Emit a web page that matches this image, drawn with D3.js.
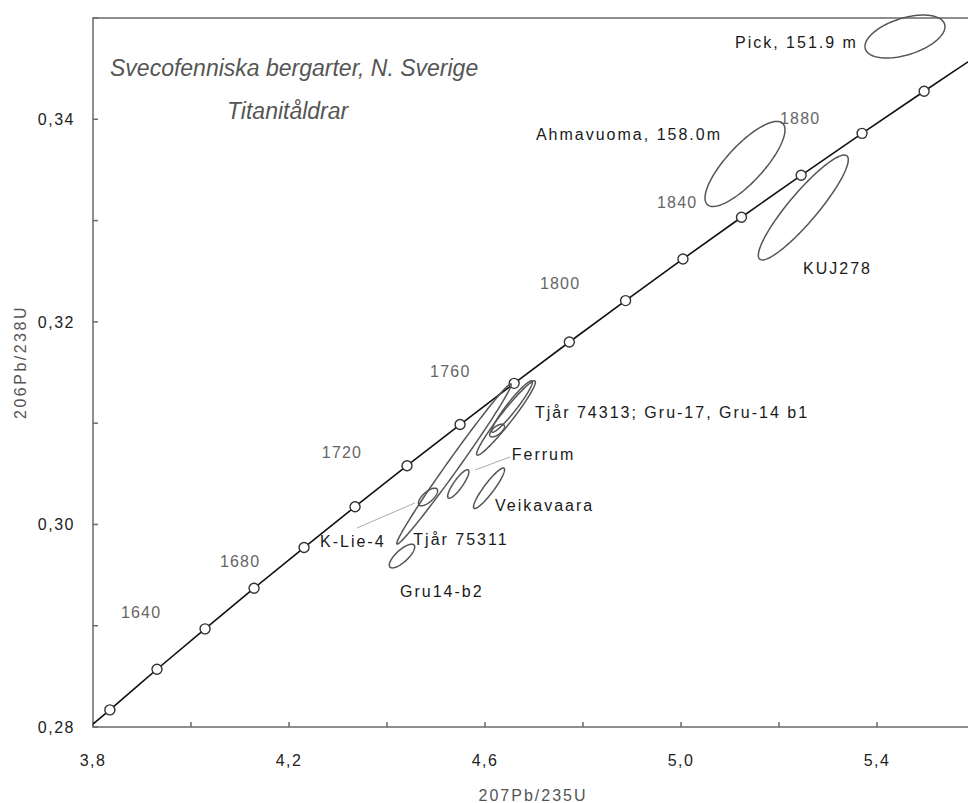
<!DOCTYPE html>
<html>
<head>
<meta charset="utf-8">
<script src="https://cdn.jsdelivr.net/npm/d3@7"></script>
<style>
  body { margin: 0; background: #fff; }
  svg { display: block; font-family: Arial, "Liberation Sans", sans-serif; }
</style>
</head>
<body>
<svg width="968" height="803"></svg>
<script>
// concordia: ages (Ma) and their ratios
const concAges = [1593, 1600, 1620, 1640, 1660, 1680, 1700, 1720, 1740, 1760, 1780, 1800, 1820, 1840, 1860, 1880, 1900, 1920];
const concX = [3.800, 3.8344, 3.9306, 4.0287, 4.1287, 4.2307, 4.3348, 4.4409, 4.5491, 4.6595, 4.7721, 4.8869, 5.0040, 5.1234, 5.2452, 5.3695, 5.4962, 5.6254];
const concY = [0.28029, 0.28169, 0.28570, 0.28969, 0.29370, 0.29772, 0.30175, 0.30580, 0.30986, 0.31393, 0.31801, 0.32210, 0.32621, 0.33033, 0.33447, 0.33861, 0.34277, 0.34695];

// age labels along concordia
const ageLabels = ['1640', '1680', '1720', '1760', '1800', '1840', '1880'];
const ageLabelX = [3.857, 4.059, 4.267, 4.488, 4.712, 4.951, 5.202];
const ageLabelY = [0.29135, 0.29639, 0.30718, 0.31518, 0.32384, 0.33186, 0.34013];

// error ellipses: centre, half widths, correlation
const ellName = ['Pick', 'Ahmavuoma', 'KUJ278', 'Tjår 75311', 'Tjår 74313', 'Gru-17', 'Gru-14 b1', 'K-Lie-4', 'Ferrum', 'Veikavaara', 'Gru14-b2'];
const ellX   = [5.4571, 5.1306, 5.2496, 4.5367, 4.6429, 4.6551, 4.6245, 4.4837, 4.5455, 4.6082, 4.4306];
const ellSX  = [0.0816, 0.0816, 0.0918, 0.1168, 0.0600, 0.0416, 0.0151, 0.0196, 0.0217, 0.0317, 0.0259];
const ellY   = [0.34817, 0.33559, 0.33129, 0.30597, 0.31051, 0.31164, 0.30927, 0.30271, 0.30399, 0.30357, 0.29688];
const ellSY  = [0.00212, 0.00420, 0.00518, 0.00791, 0.00367, 0.00254, 0.00063, 0.00087, 0.00141, 0.00200, 0.00117];
const ellRho = [0.46, 0.80, 0.91, 0.992, 0.966, 0.951, 0.65, 0.70, 0.86, 0.918, 0.76];

// sample labels
const sampleText = ['Pick, 151.9 m', 'Ahmavuoma, 158.0m', 'KUJ278', 'Tjår 74313; Gru-17, Gru-14 b1', 'Ferrum', 'Veikavaara', 'K-Lie-4', 'Tjår 75311', 'Gru14-b2'];
const sampleX = [5.1102, 5.0837, 5.2490, 4.7020, 4.6545, 4.6204, 4.2633, 4.4537, 4.4265];
const sampleY = [0.34763, 0.33850, 0.32529, 0.31113, 0.30695, 0.30192, 0.29836, 0.29853, 0.29346];
const sampleAnchor = ['start', 'end', 'start', 'start', 'start', 'start', 'start', 'start', 'start'];

// leader lines
const leaderX1 = [4.3388, 4.5796];
const leaderY1 = [0.29965, 0.30537];
const leaderX2 = [4.4571, 4.6510];
const leaderY2 = [0.30212, 0.30666];

const xTicks = [3.8, 4.0, 4.2, 4.4, 4.6, 4.8, 5.0, 5.2, 5.4, 5.6];
const xLabelTicks = [3.8, 4.2, 4.6, 5.0, 5.4];
const yTicks = [0.28, 0.29, 0.30, 0.31, 0.32, 0.33, 0.34, 0.35];
const yLabelTicks = [0.28, 0.30, 0.32, 0.34];

const svg = d3.select('svg');
const m = {left: 93, top: 18, right: 975, bottom: 727};

const x = d3.scaleLinear().domain([3.8, 5.6]).range([m.left, m.right]);
const y = d3.scaleLinear().domain([0.28, 0.35]).range([m.bottom, m.top]);
const comma = d => d3.format('.1f')(d).replace('.', ',');
const comma2 = d => d3.format('.2f')(d).replace('.', ',');

svg.append('defs').append('clipPath').attr('id', 'plot')
  .append('rect').attr('x', m.left).attr('y', m.top)
  .attr('width', m.right - m.left).attr('height', m.bottom - m.top);

// frame
svg.append('rect')
  .attr('x', m.left).attr('y', m.top)
  .attr('width', m.right - m.left).attr('height', m.bottom - m.top)
  .attr('fill', 'none').attr('stroke', '#6a6a6a').attr('stroke-width', 1.5);

// x axis ticks (inward)
svg.append('g').selectAll('line').data(xTicks).join('line')
  .attr('x1', d => x(d)).attr('x2', d => x(d))
  .attr('y1', m.bottom).attr('y2', m.bottom - 5)
  .attr('stroke', '#6a6a6a').attr('stroke-width', 1.5);
svg.append('g').selectAll('text').data(xLabelTicks).join('text')
  .attr('x', d => x(d)).attr('y', 766)
  .attr('text-anchor', 'middle')
  .attr('font-size', 16).attr('letter-spacing', 1.5).attr('fill', '#222')
  .text(comma);

// y axis ticks (inward)
svg.append('g').selectAll('line').data(yTicks).join('line')
  .attr('x1', m.left).attr('x2', m.left + 5)
  .attr('y1', d => y(d)).attr('y2', d => y(d))
  .attr('stroke', '#6a6a6a').attr('stroke-width', 1.5);
svg.append('g').selectAll('text').data(yLabelTicks).join('text')
  .attr('x', 75).attr('y', d => y(d) + 6)
  .attr('text-anchor', 'end')
  .attr('font-size', 16).attr('letter-spacing', 1.5).attr('fill', '#222')
  .text(comma2);

// axis titles
svg.append('text')
  .attr('x', 533).attr('y', 801)
  .attr('text-anchor', 'middle')
  .attr('font-size', 16).attr('letter-spacing', 2).attr('fill', '#555')
  .text('207Pb/235U');
svg.append('text')
  .attr('transform', 'translate(26,362) rotate(-90)')
  .attr('text-anchor', 'middle')
  .attr('font-size', 16).attr('letter-spacing', 2.5).attr('fill', '#555')
  .text('206Pb/238U');

// titles
svg.append('text')
  .attr('x', 110).attr('y', 76)
  .attr('font-size', 23).attr('font-style', 'italic').attr('fill', '#555')
  .text('Svecofenniska bergarter, N. Sverige');
svg.append('text')
  .attr('x', 227).attr('y', 119)
  .attr('font-size', 23).attr('font-style', 'italic').attr('fill', '#555')
  .text('Titanitåldrar');

// concordia
const conc = concAges.map((a, i) => ({age: a, x: concX[i], y: concY[i]}));
svg.append('path')
  .datum(conc)
  .attr('clip-path', 'url(#plot)')
  .attr('d', d3.line().x(d => x(d.x)).y(d => y(d.y)).curve(d3.curveCatmullRom))
  .attr('fill', 'none').attr('stroke', '#111').attr('stroke-width', 1.6);

svg.append('g').selectAll('circle')
  .data(conc.filter(d => d.age % 20 === 0 && d.x <= 5.6))
  .join('circle')
  .attr('cx', d => x(d.x)).attr('cy', d => y(d.y)).attr('r', 5)
  .attr('fill', '#fff').attr('stroke', '#333').attr('stroke-width', 1.4);

// age labels
svg.append('g').selectAll('text').data(ageLabels).join('text')
  .attr('x', (d, i) => x(ageLabelX[i]))
  .attr('y', (d, i) => y(ageLabelY[i]) + 6)
  .attr('font-size', 16).attr('letter-spacing', 1.2).attr('fill', '#666')
  .text(d => d);

// ellipses
const ellipses = ellName.map((n, i) => ({name: n, cx: ellX[i], cy: ellY[i], sx: ellSX[i], sy: ellSY[i], rho: ellRho[i]}));
const angles = d3.range(0, 120).map(k => k / 120 * 2 * Math.PI);
const ellLine = d3.line().curve(d3.curveLinearClosed);
svg.append('g').selectAll('path').data(ellipses).join('path')
  .attr('d', e => ellLine(angles.map(t => [
    x(e.cx + e.sx * Math.cos(t)),
    y(e.cy + e.sy * (e.rho * Math.cos(t) + Math.sqrt(1 - e.rho * e.rho) * Math.sin(t)))
  ])))
  .attr('fill', 'none').attr('stroke', '#555').attr('stroke-width', 1.5);

// leader lines
svg.append('g').selectAll('line').data(leaderX1).join('line')
  .attr('x1', (d, i) => x(leaderX1[i])).attr('y1', (d, i) => y(leaderY1[i]))
  .attr('x2', (d, i) => x(leaderX2[i])).attr('y2', (d, i) => y(leaderY2[i]))
  .attr('stroke', '#aaa').attr('stroke-width', 1);

// sample labels
svg.append('g').selectAll('text').data(sampleText).join('text')
  .attr('x', (d, i) => x(sampleX[i]))
  .attr('y', (d, i) => y(sampleY[i]) + 6)
  .attr('text-anchor', (d, i) => sampleAnchor[i])
  .attr('font-size', 16).attr('letter-spacing', 2).attr('fill', '#1a1a1a')
  .text(d => d);
</script>
</body>
</html>
